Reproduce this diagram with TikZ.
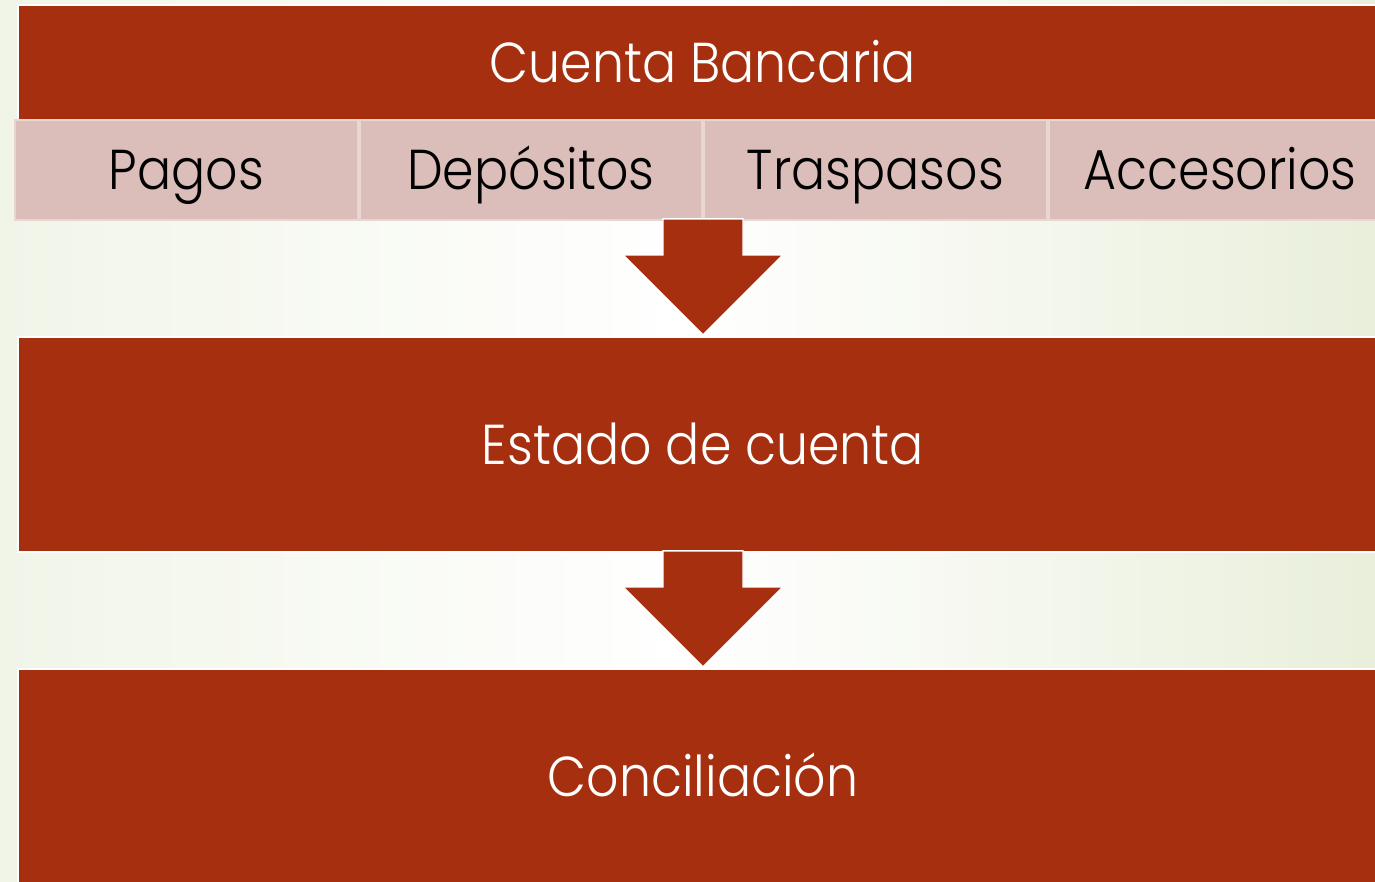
\documentclass[tikz,border=0pt]{standalone}
\usepackage{fontspec}
\setmainfont{Poppins}[UprightFont=* Light, FakeStretch=0.9]
\usetikzlibrary{calc}
\definecolor{brick}{HTML}{A52F0F}
\definecolor{rosy}{HTML}{DBBDB9}
\definecolor{rosyline}{HTML}{E8D6D3}
\definecolor{bgleft}{HTML}{F1F5E8}
\definecolor{bgright}{HTML}{E9EFDB}
\tikzset{>=latex}
\tikzset{
  label font/.style={font=\fontsize{16}{19}\selectfont, text height=11.2pt, text depth=0pt},
  bigbox/.style={fill=brick, draw=white, line width=0.6pt, minimum width=13.7cm, inner sep=0pt, text=white, label font},
  cell/.style={fill=rosy, draw=rosyline, line width=0.6pt, minimum width=3.43cm, minimum height=1.0cm, inner sep=0pt, text=black, label font},
  blockarrow/.style={fill=brick, draw=white, line width=0.4pt}
}

\begin{document}
\begin{tikzpicture}[scale=1]
\useasboundingbox (0,0) rectangle (13.75,8.81);
\clip (0,0) rectangle (13.75,8.81);
\shade[left color=bgleft, right color=bgright, middle color=white] (0,0) rectangle (13.75,8.81);
\fill[bgleft] (0,0) rectangle (0.15,8.81);

\node[bigbox, minimum height=1.15cm] (cuenta) at (7.03, 8.185) {Cuenta Bancaria};
\node[cell] (pagos) at (1.865, 7.11) {Pagos};
\node[cell] (depositos) at (5.31, 7.11) {Depósitos};
\node[cell] (traspasos) at (8.755, 7.11) {Traspasos};
\node[cell] (accesorios) at (12.2, 7.11) {Accesorios};
\node[bigbox, minimum height=2.15cm] (estado) at (7.03, 4.365) {Estado de cuenta};
\node[bigbox, minimum height=2.15cm] (concil) at (7.03, 1.045) {Conciliación};

\foreach \n in {estado, concil}
  \draw[blockarrow] ($(\n.north)+(0,0.01)$) -- ++(0.8,0.8) -- ++(-0.4,0) -- ++(0,0.36)
    -- ++(-0.8,0) -- ++(0,-0.36) -- ++(-0.4,0) -- cycle;
\end{tikzpicture}
\end{document}
